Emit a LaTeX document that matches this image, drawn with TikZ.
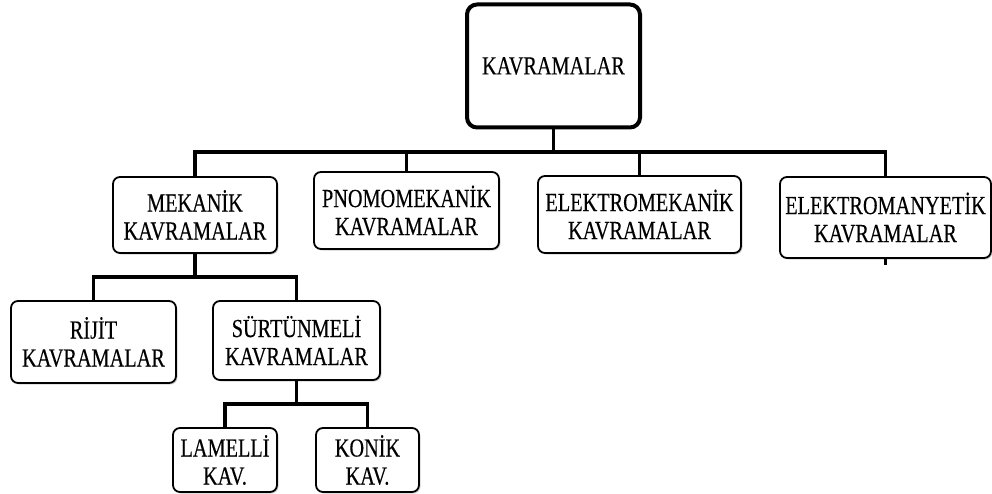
\documentclass[tikz,border=0pt]{standalone}
\usepackage{fontspec}
\setmainfont{Liberation Serif}
\newfontfamily\darfont[FakeStretch=0.78, FakeBold=0.3]{Liberation Serif}
\usetikzlibrary{shadows}

\tikzset{
  kutu/.style={draw, line width=1.8pt, rounded corners=7pt, fill=white, align=center,
    inner sep=0pt, font=\darfont\fontsize{26}{28}\selectfont,
    drop shadow={shadow xshift=1.5pt, shadow yshift=-1.5pt, fill=black!35}},
  ana/.style={kutu, line width=4pt, rounded corners=10pt},
  hat/.style={line width=3.5pt}
}

\begin{document}
\begin{tikzpicture}[x=1pt, y=-1pt]
    \useasboundingbox (0,0) rectangle (992,494);

    % Ana kutu
    \node[ana, minimum width=173pt, minimum height=123pt] (kav) at (553.5,66) {KAVRAMALAR};

    % Birinci seviye
    \node[kutu, minimum width=164pt, minimum height=76pt] (mek) at (195,215) {MEKANİK\\KAVRAMALAR};
    \node[kutu, minimum width=185pt, minimum height=77pt] (pno) at (406.5,210.5) {PNOMOMEKANİK\\KAVRAMALAR};
    \node[kutu, minimum width=203pt, minimum height=77pt] (elm) at (639.5,214.5) {ELEKTROMEKANİK\\KAVRAMALAR};
    \node[kutu, minimum width=211pt, minimum height=81pt] (ely) at (885.5,217.5) {ELEKTROMANYETİK\\KAVRAMALAR};

    % Ikinci seviye
    \node[kutu, minimum width=165pt, minimum height=82pt] (rij) at (93.5,342) {RİJİT\\KAVRAMALAR};
    \node[kutu, minimum width=167pt, minimum height=79pt] (sur) at (296.5,340.5) {SÜRTÜNMELİ\\KAVRAMALAR};

    % Ucuncu seviye
    \node[kutu, minimum width=104pt, minimum height=64pt] (lam) at (225,460) {LAMELLİ\\KAV.};
    \node[kutu, minimum width=103pt, minimum height=64pt] (kon) at (367.5,460) {KONİK\\KAV.};

    % Baglantilar
    \coordinate (b1) at (553.5,152);
    \coordinate (b2) at (195,277);
    \coordinate (b3) at (296.5,404);
    \draw[hat] (kav.south) -- (b1);
    \draw[hat] (mek.north) -- (mek.north |- b1) -- (ely.north |- b1) -- (ely.north);
    \draw[hat] (pno.north) -- (pno.north |- b1);
    \draw[hat] (elm.north) -- (elm.north |- b1);

    \draw[hat] (mek.south) -- (b2);
    \draw[hat] (rij.north) -- (rij.north |- b2) -- (sur.north |- b2) -- (sur.north);

    \draw[hat] (sur.south) -- (b3);
    \draw[hat] (lam.north) -- (lam.north |- b3) -- (kon.north |- b3) -- (kon.north);

    % kucuk uc
    \draw[line width=2.5pt] (ely.south) -- ++(0,6) coordinate (uc);
\end{tikzpicture}
\end{document}
